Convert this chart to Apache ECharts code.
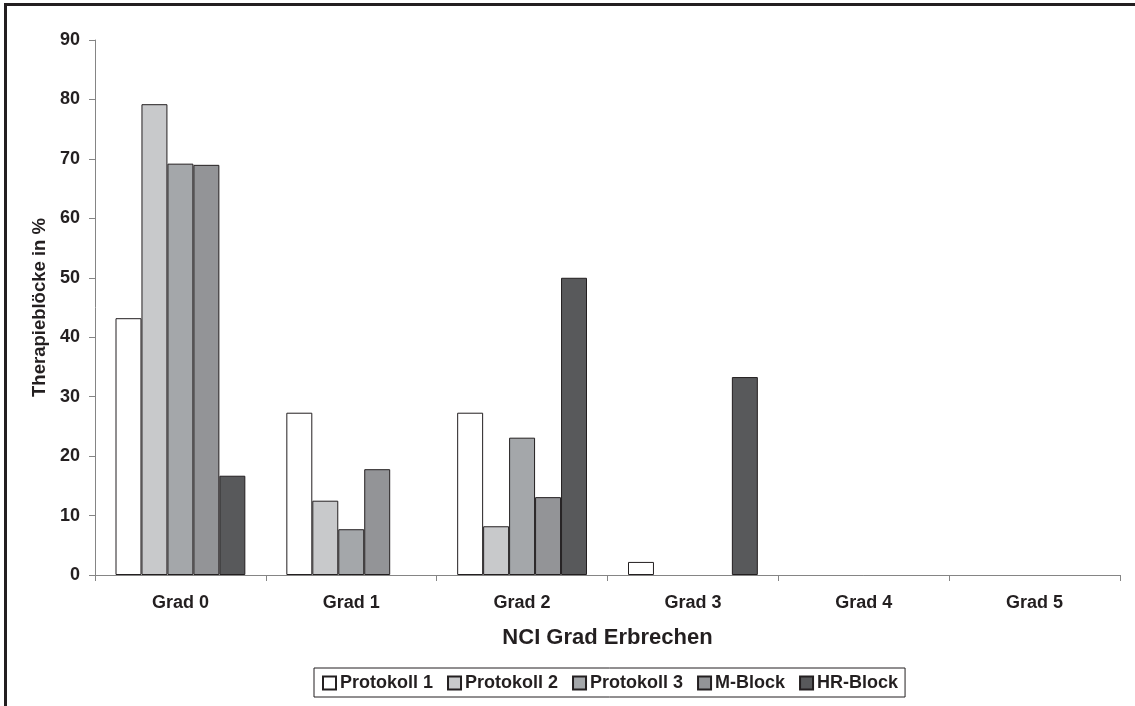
<!DOCTYPE html>
<html>
<head>
<meta charset="utf-8">
<script src="https://cdn.jsdelivr.net/npm/echarts@6/dist/echarts.min.js"></script>
<style>
html,body{margin:0;padding:0;background:#fff;}
#chart{width:1135px;height:706px;}
</style>
</head>
<body>
<div id="chart"></div>
<script>
const categories = ["Grad 0", "Grad 1", "Grad 2", "Grad 3", "Grad 4", "Grad 5"];
const seriesNames = ["Protokoll 1", "Protokoll 2", "Protokoll 3", "M-Block", "HR-Block"];
const protokoll1 = [43.2, 27.3, 27.3, 2.2, 0, 0];
const protokoll2 = [79.2, 12.5, 8.2, 0, 0, 0];
const protokoll3 = [69.2, 7.7, 23.1, 0, 0, 0];
const mBlock = [69.0, 17.8, 13.1, 0, 0, 0];
const hrBlock = [16.7, 0, 50.0, 33.3, 0, 0];
const yTicks = [0, 10, 20, 30, 40, 50, 60, 70, 80, 90];
const colors = ["#ffffff", "#c8c9cb", "#a4a7aa", "#939497", "#58595b"];

const values = [protokoll1, protokoll2, protokoll3, mBlock, hrBlock];
const font = "'Liberation Sans', Arial, sans-serif";
const axisGray = "#858585";
const textColor = "#231f20";

const chart = echarts.init(document.getElementById('chart'), null, {renderer: 'canvas'});
chart.setOption({
  animation: false,
  backgroundColor: '#ffffff',
  textStyle: {fontFamily: font},
  graphic: [
    {type: 'line', shape: {x1: 5.5, y1: 3, x2: 5.5, y2: 706}, style: {stroke: textColor, lineWidth: 3}},
    {type: 'line', shape: {x1: 4, y1: 4.5, x2: 1135, y2: 4.5}, style: {stroke: textColor, lineWidth: 3}}
  ],
  legend: {
    data: seriesNames,
    left: 314,
    top: 668,
    orient: 'horizontal',
    icon: 'rect',
    itemWidth: 13,
    itemHeight: 13,
    itemGap: 14,
    padding: [6, 7, 5, 8],
    borderColor: textColor,
    borderWidth: 1,
    textStyle: {fontFamily: font, fontSize: 18, fontWeight: 'bold', color: textColor, padding: [0, 0, 0, -1]}
  },
  grid: {left: 95, right: 15, top: 40, bottom: 131, containLabel: false},
  xAxis: {
    type: 'category',
    data: categories,
    boundaryGap: true,
    name: 'NCI Grad Erbrechen',
    nameLocation: 'middle',
    nameGap: 52,
    nameTextStyle: {fontFamily: font, fontSize: 22, fontWeight: 'bold', color: textColor},
    axisLine: {lineStyle: {color: axisGray, width: 1}},
    axisTick: {show: true, length: 6, lineStyle: {color: axisGray}},
    axisLabel: {fontFamily: font, fontSize: 18, fontWeight: 'bold', color: textColor, margin: 19}
  },
  yAxis: {
    type: 'value',
    min: 0,
    max: 90,
    interval: 10,
    name: 'Therapieblöcke in %',
    nameLocation: 'middle',
    nameGap: 46,
    nameTextStyle: {fontFamily: font, fontSize: 18.5, fontWeight: 'bold', color: textColor},
    axisLine: {show: true, lineStyle: {color: axisGray, width: 1}},
    axisTick: {show: true, length: 6, lineStyle: {color: axisGray}},
    splitLine: {show: false},
    axisLabel: {fontFamily: font, fontSize: 18, fontWeight: 'bold', color: textColor, margin: 15,
      formatter: function (v) { return yTicks.indexOf(v) >= 0 ? String(v) : ''; }}
  },
  series: seriesNames.map(function (name, i) {
    return {
      name: name,
      type: 'bar',
      data: values[i].map(function (v) { return v === 0 ? '-' : v; }),
      barGap: '0%',
      barCategoryGap: '24%',
      itemStyle: {color: colors[i], borderColor: textColor, borderWidth: 1},
      emphasis: {disabled: true}
    };
  })
});
</script>
</body>
</html>
